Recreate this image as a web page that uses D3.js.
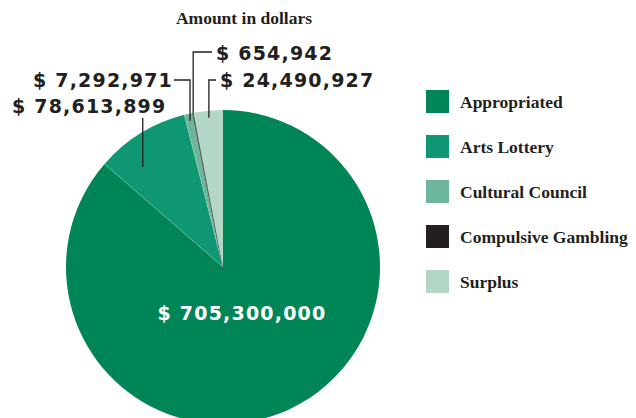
<!DOCTYPE html>
<html>
<head>
<meta charset="utf-8">
<script src="https://cdn.jsdelivr.net/npm/d3@7"></script>
<style>
  html, body { margin: 0; padding: 0; background: #ffffff; }
  svg { display: block; }
</style>
</head>
<body>
<svg id="chart" width="636" height="418"></svg>
<script>
// Funding sources, in the order they run clockwise from 12 o'clock
const categories = ["Appropriated", "Arts Lottery", "Cultural Council", "Compulsive Gambling", "Surplus"];
const amounts = [705300000, 78613899, 7292971, 654942, 24490927];
const colors = ["#008556", "#0f9673", "#6db59b", "#231f20", "#b3d6c6"];
const title = "Amount in dollars";

const svg = d3.select("#chart");
const ink = "#231f20";
const cx = 223, cy = 267, r = 157;

const fmt = v => "$ " + d3.format(",")(v);

const data = categories.map((c, i) => ({ name: c, value: amounts[i], color: colors[i] }));
const pie = d3.pie().value(d => d.value).sort(null);
const arcs = pie(data);
const arc = d3.arc().innerRadius(0).outerRadius(r);

const g = svg.append("g").attr("transform", `translate(${cx},${cy})`);
g.selectAll("path")
  .data(arcs)
  .join("path")
  .attr("d", arc)
  .attr("fill", d => d.data.color)
  .attr("stroke", d => d.data.name === "Compulsive Gambling" ? ink : "none")
  .attr("stroke-width", 1);

// thin pale seams between the slices
g.selectAll("line.seam")
  .data(arcs.slice(1))
  .join("line")
  .attr("class", "seam")
  .attr("x1", 0).attr("y1", 0)
  .attr("x2", d => r * Math.sin(d.startAngle))
  .attr("y2", d => -r * Math.cos(d.startAngle))
  .attr("stroke", "#ffffff")
  .attr("stroke-opacity", 0.35)
  .attr("stroke-width", 0.6);

// Point at a given radius along the middle of a slice
function pointAt(a, rad) {
  const m = (a.startAngle + a.endAngle) / 2;
  return [cx + rad * Math.sin(m), cy - rad * Math.cos(m)];
}

// Title
svg.append("text")
  .attr("x", 244).attr("y", 24)
  .attr("text-anchor", "middle")
  .attr("font-family", "'Liberation Serif', 'DejaVu Serif', serif")
  .attr("font-weight", "bold")
  .attr("font-size", 17.5)
  .attr("fill", ink)
  .text(title);

const labelFont = "'DejaVu Sans', 'Liberation Sans', sans-serif";

function valueLabel(text, x, y, anchor, fill) {
  svg.append("text")
    .attr("x", x).attr("y", y)
    .attr("text-anchor", anchor)
    .attr("font-family", labelFont)
    .attr("font-weight", "bold")
    .attr("font-size", 19)
    .attr("letter-spacing", 1.2)
    .attr("fill", fill || ink)
    .text(text);
}

const leader = svg.append("g")
  .attr("fill", "none")
  .attr("stroke", ink)
  .attr("stroke-width", 1.3);

// Arts Lottery
const pArts = pointAt(arcs[1], 153);
valueLabel(fmt(amounts[1]), 12, 113, "start");
leader.append("path").attr("d", `M${pArts[0]},118 V167`);

// Cultural Council
const pCult = pointAt(arcs[2], 150);
valueLabel(fmt(amounts[2]), 33, 87, "start");
leader.append("path").attr("d", `M174,80 H${pCult[0]} V${pCult[1]}`);

// Compulsive Gambling
const pGamb = pointAt(arcs[3], r);
valueLabel(fmt(amounts[3]), 216, 60, "start");
leader.append("path").attr("d", `M212,52 H${pGamb[0]} V${pGamb[1]}`);

// Surplus
const pSur = pointAt(arcs[4], 150);
valueLabel(fmt(amounts[4]), 220, 87, "start");
leader.append("path").attr("d", `M216,80 H${pSur[0]} V${pSur[1]}`);

// Appropriated, inside the slice
valueLabel(fmt(amounts[0]), 242, 320, "middle", "#ffffff");

// Legend
const legend = svg.append("g").attr("transform", "translate(426,90)");
const items = legend.selectAll("g")
  .data(data)
  .join("g")
  .attr("transform", (d, i) => `translate(0,${i * 45})`);
items.append("rect")
  .attr("width", 23).attr("height", 23)
  .attr("fill", d => d.color);
items.append("text")
  .attr("x", 34).attr("y", 18)
  .attr("font-family", "'Liberation Serif', 'DejaVu Serif', serif")
  .attr("font-weight", "bold")
  .attr("font-size", 17.5)
  .attr("fill", ink)
  .text(d => d.name);
</script>
</body>
</html>
